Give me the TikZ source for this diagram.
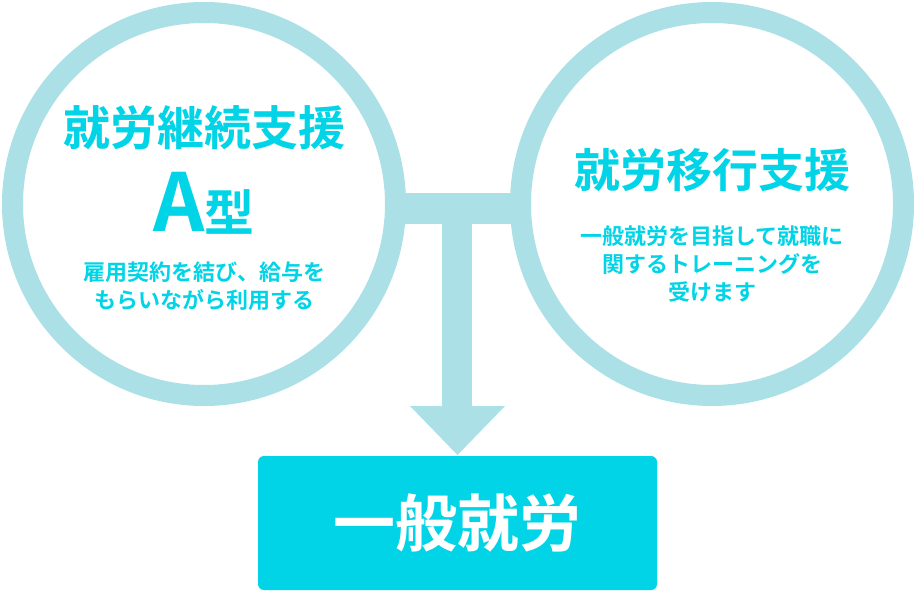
\documentclass[tikz,border=0pt]{standalone}
\usepackage{fontspec}
\newfontfamily\jp{Noto Sans CJK JP Bold}
\definecolor{ring}{HTML}{ABE0E6}
\definecolor{cy}{HTML}{00D4E6}
\begin{document}
\begin{tikzpicture}[x=1pt,y=-1pt,
  ttl/.style={text=cy,font=\jp,inner sep=0},
  sm/.style={text=cy,font=\jp\fontsize{22}{28}\selectfont,align=center,inner sep=0}]
\useasboundingbox[fill=white] (0,0) rectangle (915,591);
\fill[ring] (400,193) rectangle (515,224);
\fill[ring] (442,215) rectangle (472,407);
\fill[ring] (410,406) -- (505,406) -- (457.5,455) -- cycle;
\node[circle,draw=ring,line width=21pt,fill=white,minimum size=383pt] (L) at (204,204) {};
\node[circle,draw=ring,line width=21pt,fill=white,minimum size=383pt] (R) at (712,204) {};
\node[ttl,font=\jp\fontsize{47}{50}\selectfont] (l1) at (204,128) {就労継続支援};
\node[ttl] (l2) at (204,203) {\fontsize{80}{82}\selectfont A\fontsize{50}{52}\selectfont 型};
\node[sm] (l3) at (204,286) {雇用契約を結び、給与を\\もらいながら利用する};
\node[ttl,font=\jp\fontsize{46}{50}\selectfont] (r1) at (712,170) {就労移行支援};
\node[sm] (r2) at (712,264) {一般就労を目指して就職に\\関するトレーニングを\\受けます};
\node[fill=cy,rounded corners=6pt,minimum width=399pt,minimum height=134pt,text=white,font=\jp\fontsize{62}{66}\selectfont] (B) at (457.5,523) {一般就労};
\end{tikzpicture}
\end{document}
